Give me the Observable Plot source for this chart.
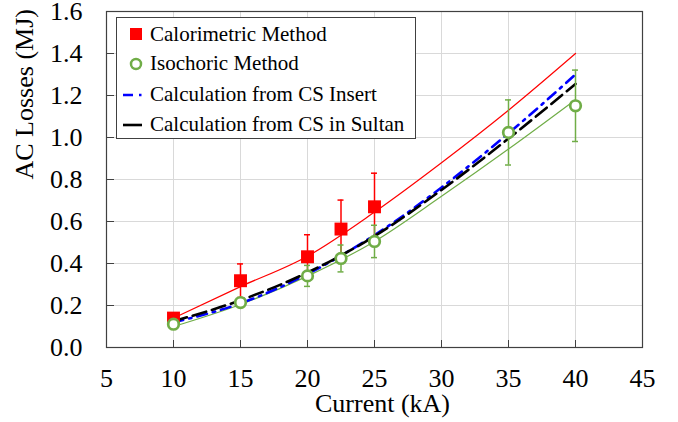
<!DOCTYPE html>
<html>
<head>
<meta charset="utf-8">
<script src="https://cdn.jsdelivr.net/npm/d3@7"></script>
<script src="https://cdn.jsdelivr.net/npm/@observablehq/plot@0.6"></script>
<style>
  body { margin: 0; background: #fff; }
  #wrap { position: relative; width: 678px; height: 422px; font-family: "Liberation Serif", "Times New Roman", serif; }
  #chart svg, #chart svg text { font-family: "Liberation Serif", "Times New Roman", serif !important; font-variant-numeric: normal !important; }
  #legend { position: absolute; left: 116px; top: 17px; width: 298px; height: 120px; border: 1px solid #404040; background: #fff; font-size: 21px; color: #000; }
  .row { position: absolute; left: 0; height: 30px; display: flex; align-items: center; }
  .row svg { width: 33px; height: 30px; flex: none; }
  .row span { white-space: nowrap; }
</style>
</head>
<body>
<div id="wrap">
  <div id="chart"></div>
  <div id="legend"></div>
</div>
<script>
// ---- data ----
const xTicks = [5, 10, 15, 20, 25, 30, 35, 40, 45];
const yTicks = [0, 0.2, 0.4, 0.6, 0.8, 1.0, 1.2, 1.4, 1.6];

const calX = [10, 15, 20, 22.5, 25];
const calY = [0.14, 0.318, 0.432, 0.564, 0.67];
const calErr = [0.02, 0.08, 0.105, 0.138, 0.16];

const isoX = [10, 15, 20, 22.5, 25, 35, 40];
const isoY = [0.111, 0.214, 0.341, 0.424, 0.505, 1.024, 1.151];
const isoErr = [0.01, 0.01, 0.05, 0.064, 0.077, 0.155, 0.17];

const fitX = [10, 15, 20, 25, 30, 35, 40];
const calFit = [0.14, 0.29, 0.435, 0.645, 0.88, 1.13, 1.40];
const isoFit = [0.10, 0.205, 0.34, 0.505, 0.72, 0.945, 1.18];
const csInsert = [0.12, 0.21, 0.35, 0.535, 0.762, 1.02, 1.30];
const csSultan = [0.125, 0.225, 0.357, 0.53, 0.75, 0.995, 1.255];

const seriesNames = ["Calorimetric Method", "Isochoric Method", "Calculation from CS Insert", "Calculation from CS in Sultan"];
const xLabel = "Current (kA)";
const yLabel = "AC Losses (MJ)";

// ---- build tables ----
const pts = (xs, ys, es) => xs.map((x, i) => ({x, y: ys[i], lo: es ? ys[i] - es[i] : null, hi: es ? ys[i] + es[i] : null}));
const cal = pts(calX, calY, calErr);
const iso = pts(isoX, isoY, isoErr);
const fitRed = pts(fitX, calFit);
const fitGreen = pts(fitX, isoFit);
const fitBlue = pts(fitX, csInsert);
const fitBlack = pts(fitX, csSultan);

const RED = "#ff0000", GREEN = "#70ad47", BLUE = "#0000ff", BLACK = "#000000";
const FONT = "Liberation Serif";

const errMarks = (data, color) => [
  Plot.ruleX(data, {x: "x", y1: "lo", y2: "hi", stroke: color, strokeWidth: 1.5}),
  Plot.ruleY(data, {y: "hi", x1: "x", x2: "x", insetLeft: -3, insetRight: -3, stroke: color, strokeWidth: 1.5}),
  Plot.ruleY(data, {y: "lo", x1: "x", x2: "x", insetLeft: -3, insetRight: -3, stroke: color, strokeWidth: 1.5})
];

const chart = Plot.plot({
  width: 678,
  height: 422,
  marginLeft: 106,
  marginRight: 36,
  marginTop: 11,
  marginBottom: 75,
  x: {domain: [5, 45]},
  y: {domain: [0, 1.6]},
  style: {fontFamily: FONT, fontSize: "26px", color: "#000", background: "#fff", overflow: "visible"},
  marks: [
    Plot.gridX(xTicks, {stroke: "#d9d9d9", strokeOpacity: 1, strokeWidth: 1}),
    Plot.gridY(yTicks, {stroke: "#d9d9d9", strokeOpacity: 1, strokeWidth: 1}),
    Plot.frame({stroke: "#404040", strokeWidth: 1.2}),
    Plot.axisX({ticks: xTicks, tickSize: 0, tickPadding: 21, tickFormat: d => String(d), label: null, fontSize: 26, fontFamily: FONT}),
    Plot.axisX({ticks: xTicks, tickSize: 7, dy: -7, tickFormat: () => "", label: null, stroke: "#404040"}),
    Plot.axisY({ticks: yTicks, tickSize: 0, tickPadding: 24, tickFormat: d => d.toFixed(1), label: null, fontSize: 26, fontFamily: FONT}),
    Plot.axisY({ticks: yTicks, tickSize: 8, dx: 8, tickFormat: () => "", label: null, stroke: "#404040"}),
    Plot.text([xLabel], {frameAnchor: "bottom", dy: 64, fontSize: 26, fontFamily: FONT, text: d => d, dx: 8}),
    Plot.text([yLabel], {frameAnchor: "left", dx: -82, rotate: -90, fontSize: 26, fontFamily: FONT, text: d => d}),
    Plot.line(fitRed, {x: "x", y: "y", stroke: RED, strokeWidth: 1.2, curve: "monotone-x"}),
    Plot.line(fitGreen, {x: "x", y: "y", stroke: GREEN, strokeWidth: 1.2, curve: "monotone-x"}),
    Plot.line(fitBlue, {x: "x", y: "y", stroke: BLUE, strokeWidth: 2.6, strokeDasharray: "10,6,2.5,6", curve: "monotone-x"}),
    Plot.line(fitBlack, {x: "x", y: "y", stroke: BLACK, strokeWidth: 2.6, strokeDasharray: "14,6", curve: "monotone-x"}),
    ...errMarks(cal, RED),
    ...errMarks(iso, GREEN),
    Plot.dot(cal, {x: "x", y: "y", symbol: "square", r: 7.3, fill: RED, stroke: "none"}),
    Plot.dot(iso, {x: "x", y: "y", symbol: "circle", r: 5.3, fill: "#fff", stroke: GREEN, strokeWidth: 2.7})
  ]
});
document.getElementById("chart").appendChild(chart);

// ---- legend (HTML overlay, real text) ----
const legendSymbols = [
  `<rect x="13" y="9" width="12" height="12" fill="${RED}"/>`,
  `<circle cx="19" cy="15" r="5" fill="#fff" stroke="${GREEN}" stroke-width="2.5"/>`,
  `<line x1="6" y1="15" x2="28" y2="15" stroke="${BLUE}" stroke-width="2.6" stroke-dasharray="10,6,2.5,6"/>`,
  `<line x1="6" y1="15" x2="25" y2="15" stroke="${BLACK}" stroke-width="2.6"/>`
];
const legend = document.getElementById("legend");
const rowTops = [1, 30.5, 61.5, 91.5];
seriesNames.forEach((name, i) => {
  const row = document.createElement("div");
  row.className = "row";
  row.style.top = rowTops[i] + "px";
  row.innerHTML = `<svg viewBox="0 0 33 30">${legendSymbols[i]}</svg><span>${name}</span>`;
  legend.appendChild(row);
});
</script>
</body>
</html>
